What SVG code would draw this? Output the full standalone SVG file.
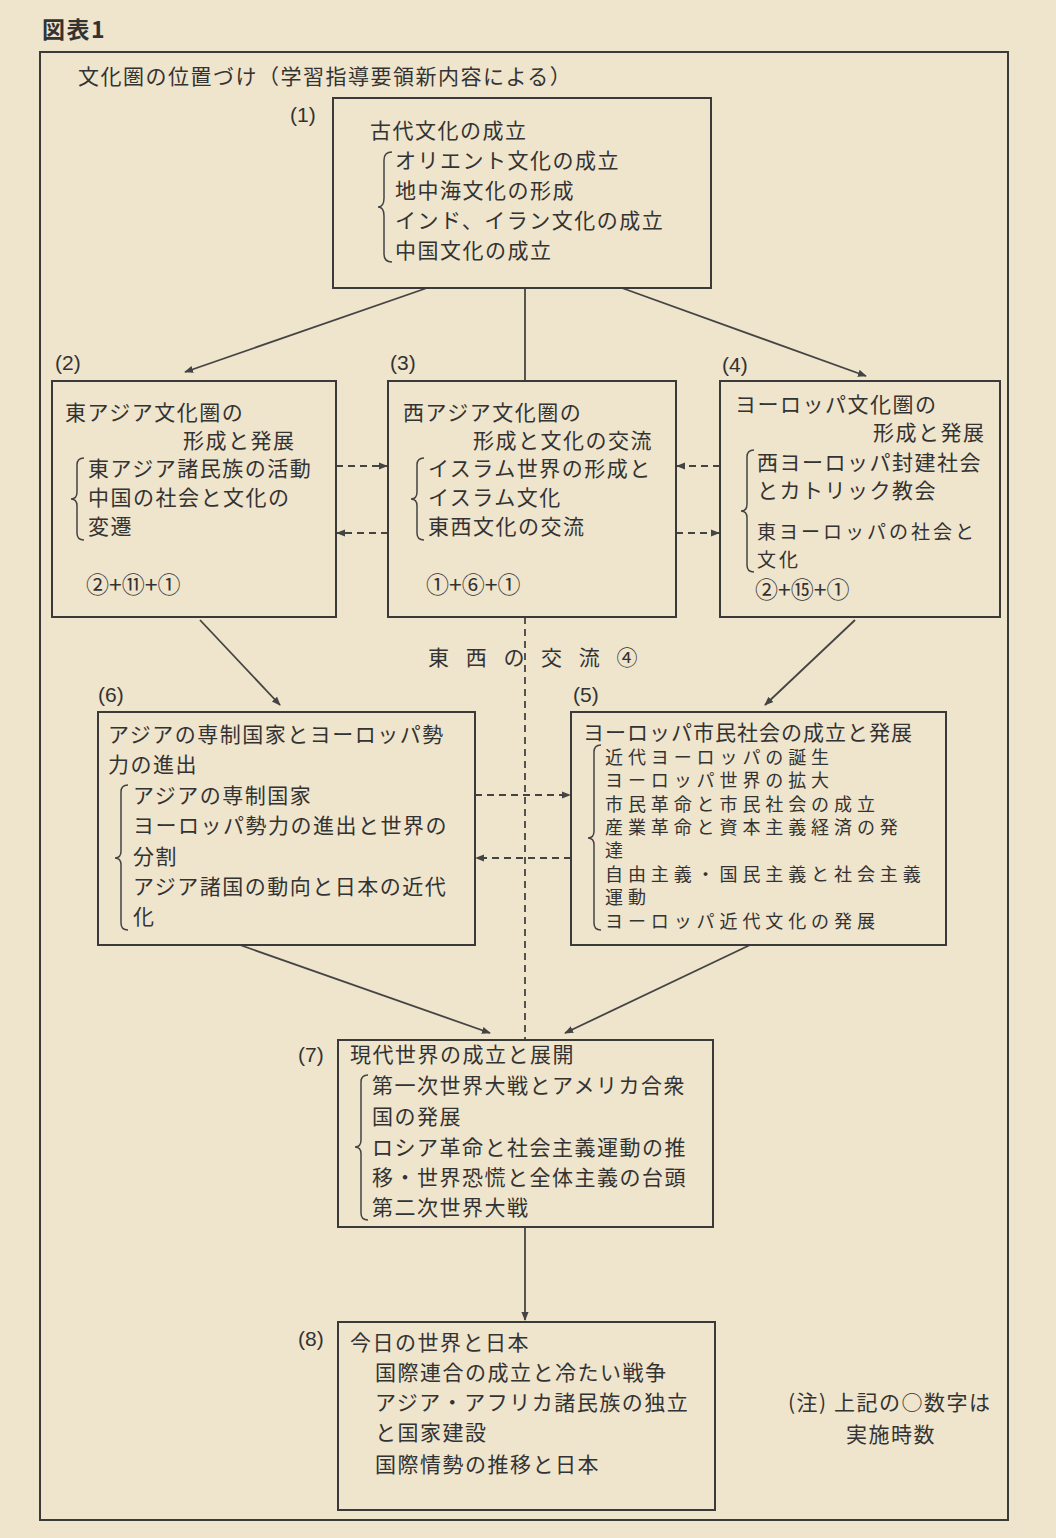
<svg xmlns="http://www.w3.org/2000/svg" width="1056" height="1538" viewBox="0 0 1056 1538">
<defs>
<style>
text{font-family:"Noto Sans CJK JP","Noto Sans CJK SC",sans-serif;font-size:21px;fill:#333;letter-spacing:1.5px}
.n{font-family:"Liberation Sans","Noto Sans CJK JP",sans-serif;font-size:21px;letter-spacing:0}
.s{font-size:18px;letter-spacing:4.9px}
.t{font-size:19px;letter-spacing:3px}
.c{font-size:23px;letter-spacing:0}
.b{fill:none;stroke:#3a3a3a;stroke-width:2}
.l{fill:none;stroke:#444;stroke-width:1.8}
.d{fill:none;stroke:#444;stroke-width:1.8;stroke-dasharray:7,5}
.br{fill:none;stroke:#444;stroke-width:1.5}
</style>
<marker id="a" viewBox="0 0 10 10" refX="9" refY="5" markerWidth="9" markerHeight="9" orient="auto" markerUnits="userSpaceOnUse"><path d="M0,1L10,5L0,9z" fill="#444"/></marker>
</defs>
<rect width="1056" height="1538" fill="#efe4cc"/>
<text x="42" y="38" style="font-size:23px;font-weight:bold">図表1</text>
<rect x="40" y="52" width="968" height="1468" class="b"/>
<text x="78" y="84">文化圏の位置づけ（学習指導要領新内容による）</text>

<g id="connectors">
<line x1="427" y1="288" x2="185" y2="372" class="l" marker-end="url(#a)"/>
<line x1="525" y1="288" x2="525" y2="381" class="l"/>
<line x1="622" y1="288" x2="866" y2="376" class="l" marker-end="url(#a)"/>
<line x1="336" y1="466" x2="387" y2="466" class="d" marker-end="url(#a)"/>
<line x1="388" y1="533" x2="337" y2="533" class="d" marker-end="url(#a)"/>
<line x1="720" y1="466" x2="677" y2="466" class="d" marker-end="url(#a)"/>
<line x1="676" y1="533" x2="719" y2="533" class="d" marker-end="url(#a)"/>
<line x1="200" y1="620" x2="280" y2="705" class="l" marker-end="url(#a)"/>
<line x1="855" y1="620" x2="765" y2="705" class="l" marker-end="url(#a)"/>
<line x1="525" y1="617" x2="525" y2="1040" class="d"/>
<line x1="475" y1="795" x2="570" y2="795" class="d" marker-end="url(#a)"/>
<line x1="571" y1="858" x2="476" y2="858" class="d" marker-end="url(#a)"/>
<line x1="240" y1="945" x2="490" y2="1033" class="l" marker-end="url(#a)"/>
<line x1="750" y1="945" x2="565" y2="1033" class="l" marker-end="url(#a)"/>
<line x1="525" y1="1227" x2="525" y2="1320" class="l" marker-end="url(#a)"/>
<text x="428" y="665" style="letter-spacing:6px">東 西 の 交 流 ④</text>
</g>

<g id="n1">
<text x="290" y="122" class="n">(1)</text>
<rect x="333" y="98" width="378" height="190" class="b"/>
<text x="370" y="138">古代文化の成立</text>
<path d="M392,152 Q384,152 384,160 L384,198 Q384,207 378,207 Q384,207 384,216 L384,254 Q384,262 392,262" class="br"/>
<text x="395" y="168">オリエント文化の成立</text>
<text x="395" y="198">地中海文化の形成</text>
<text x="395" y="228">インド、イラン文化の成立</text>
<text x="395" y="258">中国文化の成立</text>
</g>

<g id="n2">
<text x="55" y="370" class="n">(2)</text>
<rect x="52" y="381" width="284" height="236" class="b"/>
<text x="65" y="420">東アジア文化圏の</text>
<text x="183" y="448">形成と発展</text>
<path d="M84,458 Q77,458 77,465 L77,492 Q77,499 71,499 Q77,499 77,506 L77,533 Q77,540 84,540" class="br"/>
<text x="88" y="476">東アジア諸民族の活動</text>
<text x="88" y="505">中国の社会と文化の</text>
<text x="88" y="534">変遷</text>
<text x="86" y="593" class="c">②+⑪+①</text>
</g>

<g id="n3">
<text x="390" y="370" class="n">(3)</text>
<rect x="388" y="381" width="288" height="236" class="b"/>
<text x="403" y="420">西アジア文化圏の</text>
<text x="473" y="448">形成と文化の交流</text>
<path d="M424,458 Q417,458 417,465 L417,492 Q417,499 411,499 Q417,499 417,506 L417,533 Q417,540 424,540" class="br"/>
<text x="428" y="476">イスラム世界の形成と</text>
<text x="428" y="505">イスラム文化</text>
<text x="428" y="534">東西文化の交流</text>
<text x="426" y="593" class="c">①+⑥+①</text>
</g>

<g id="n4">
<text x="722" y="372" class="n">(4)</text>
<rect x="720" y="381" width="280" height="236" class="b"/>
<text x="735" y="412">ヨーロッパ文化圏の</text>
<text x="873" y="440">形成と発展</text>
<path d="M754,450 Q747,450 747,457 L747,504 Q747,511 741,511 Q747,511 747,518 L747,565 Q747,572 754,572" class="br"/>
<text x="757" y="470">西ヨーロッパ封建社会</text>
<text x="757" y="498">とカトリック教会</text>
<text x="757" y="539" class="t">東ヨーロッパの社会と</text>
<text x="757" y="567" class="t">文化</text>
<text x="755" y="598" class="c">②+⑮+①</text>
</g>

<g id="n6">
<text x="98" y="702" class="n">(6)</text>
<rect x="98" y="712" width="377" height="233" class="b"/>
<text x="108" y="742">アジアの専制国家とヨーロッパ勢</text>
<text x="108" y="772">力の進出</text>
<path d="M128,785 Q121,785 121,792 L121,851 Q121,858 115,858 Q121,858 121,865 L121,923 Q121,930 128,930" class="br"/>
<text x="133" y="803">アジアの専制国家</text>
<text x="133" y="833">ヨーロッパ勢力の進出と世界の</text>
<text x="133" y="864">分割</text>
<text x="133" y="894">アジア諸国の動向と日本の近代</text>
<text x="133" y="924">化</text>
</g>

<g id="n5">
<text x="573" y="702" class="n">(5)</text>
<rect x="571" y="712" width="375" height="233" class="b"/>
<text x="583" y="740" style="letter-spacing:1px">ヨーロッパ市民社会の成立と発展</text>
<path d="M601,745 Q594,745 594,752 L594,831 Q594,838 588,838 Q594,838 594,845 L594,923 Q594,930 601,930" class="br"/>
<text x="605" y="764" class="s">近代ヨーロッパの誕生</text>
<text x="605" y="787" class="s">ヨーロッパ世界の拡大</text>
<text x="605" y="811" class="s">市民革命と市民社会の成立</text>
<text x="605" y="834" class="s">産業革命と資本主義経済の発</text>
<text x="605" y="857" class="s">達</text>
<text x="605" y="881" class="s">自由主義・国民主義と社会主義</text>
<text x="605" y="904" class="s">運動</text>
<text x="605" y="928" class="s">ヨーロッパ近代文化の発展</text>
</g>

<g id="n7">
<text x="298" y="1062" class="n">(7)</text>
<rect x="338" y="1040" width="375" height="187" class="b"/>
<text x="350" y="1062">現代世界の成立と展開</text>
<path d="M368,1075 Q361,1075 361,1082 L361,1140 Q361,1147 355,1147 Q361,1147 361,1154 L361,1213 Q361,1220 368,1220" class="br"/>
<text x="372" y="1093">第一次世界大戦とアメリカ合衆</text>
<text x="372" y="1124">国の発展</text>
<text x="372" y="1155">ロシア革命と社会主義運動の推</text>
<text x="372" y="1185">移・世界恐慌と全体主義の台頭</text>
<text x="372" y="1215">第二次世界大戦</text>
</g>

<g id="n8">
<text x="298" y="1346" class="n">(8)</text>
<rect x="338" y="1322" width="377" height="188" class="b"/>
<text x="350" y="1350">今日の世界と日本</text>
<text x="375" y="1380">国際連合の成立と冷たい戦争</text>
<text x="375" y="1410">アジア・アフリカ諸民族の独立</text>
<text x="375" y="1440">と国家建設</text>
<text x="375" y="1472">国際情勢の推移と日本</text>
</g>

<g id="note">
<text x="788" y="1410">(注) 上記の○数字は</text>
<text x="846" y="1442">実施時数</text>
</g>
</svg>
